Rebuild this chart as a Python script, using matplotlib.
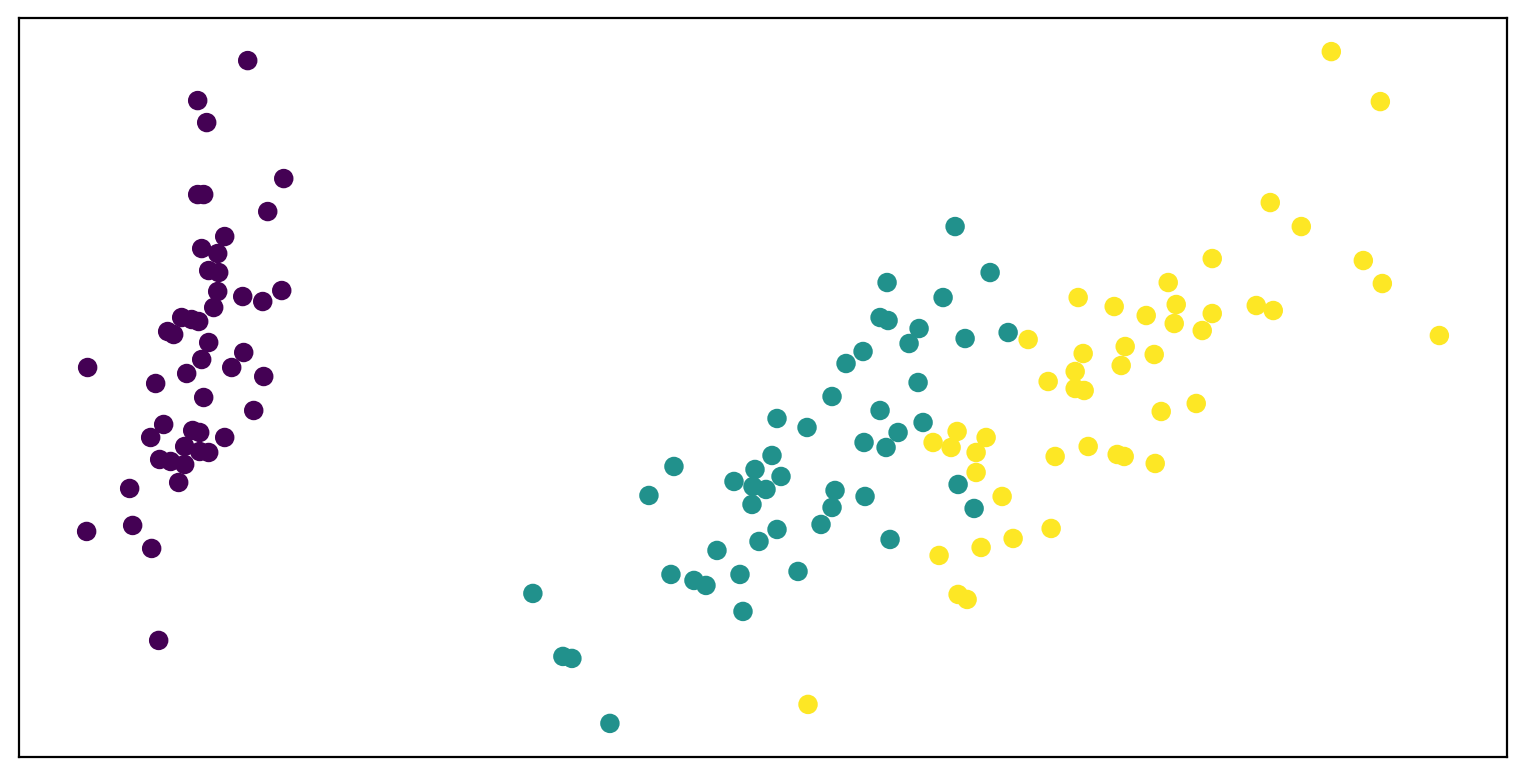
import numpy as np
import matplotlib
matplotlib.use("Agg")
import matplotlib.pyplot as plt

setosa_x = [248, 198, 207, 284, 198, 204, 268, 225, 202, 218, 209, 219, 218, 243, 263,
            282, 214, 182, 192, 199, 168, 174, 209, 244, 202, 88, 232, 187, 264, 156,
            204, 254, 164, 193, 200, 151, 225, 185, 200, 209, 160, 171, 185, 179, 130,
            87, 133, 152, 159]
setosa_y = [61, 101, 123, 179, 195, 195, 212, 237, 249, 254, 271, 273, 292, 297, 302,
            291, 308, 318, 320, 322, 332, 335, 343, 353, 360, 368, 368, 374, 377, 384,
            398, 411, 425, 431, 433, 438, 438, 447, 452, 453, 460, 462, 465, 483, 489,
            532, 526, 549, 641]

versicolor_x = [955, 990, 887, 943, 880, 888, 919, 1008, 965, 909, 863, 846, 918, 832, 880,
                777, 923, 807, 898, 864, 886, 772, 674, 755, 781, 734, 753, 766, 958, 649,
                835, 865, 752, 832, 974, 821, 777, 759, 890, 717, 671, 740, 798, 694, 706,
                533, 743, 563, 572, 610]
versicolor_y = [227, 273, 283, 298, 318, 321, 329, 333, 339, 344, 352, 364, 383, 397, 411,
                419, 423, 428, 433, 443, 448, 456, 467, 470, 477, 482, 487, 490, 485, 496,
                491, 497, 505, 508, 509, 525, 530, 542, 540, 551, 575, 575, 572, 581, 586,
                594, 612, 657, 659, 724]

virginica_x = [1331, 1380, 1270, 1301, 1212, 1363, 1382, 1168, 1078, 1176, 1114, 1146, 1256,
               1273, 1212, 1174, 1202, 1439, 1028, 1125, 1083, 1154, 1121, 1075, 1048, 1075,
               1084, 1196, 1161, 957, 933, 951, 986, 976, 1088, 1117, 1124, 1055, 1155, 976,
               1002, 1051, 1013, 981, 939, 958, 967, 808]
virginica_y = [52, 102, 203, 227, 259, 261, 284, 283, 298, 305, 307, 316, 306,
               311, 314, 324, 331, 336, 340, 347, 354, 355, 366, 372, 382, 389,
               391, 404, 412, 432, 443, 448, 438, 453, 447, 455, 457, 457, 464, 473,
               497, 529, 539, 548, 556, 595, 600, 705]

xs = np.array(setosa_x + versicolor_x + virginica_x)
ys = np.array(setosa_y + versicolor_y + virginica_y)
labels = np.array([0] * len(setosa_x) + [1] * len(versicolor_x) + [2] * len(virginica_x))

fig = plt.figure(figsize=(7.63, 3.885), dpi=200)
ax = fig.add_axes([19 / 1526, 1 - 757 / 777, 1488 / 1526, 739 / 777])

#colour the three groups with viridis
ax.scatter(xs, ys, c=labels, cmap="viridis")

ax.invert_yaxis()
ax.set_xticks([])
ax.set_yticks([])

fig.savefig("out.png", dpi=200)
